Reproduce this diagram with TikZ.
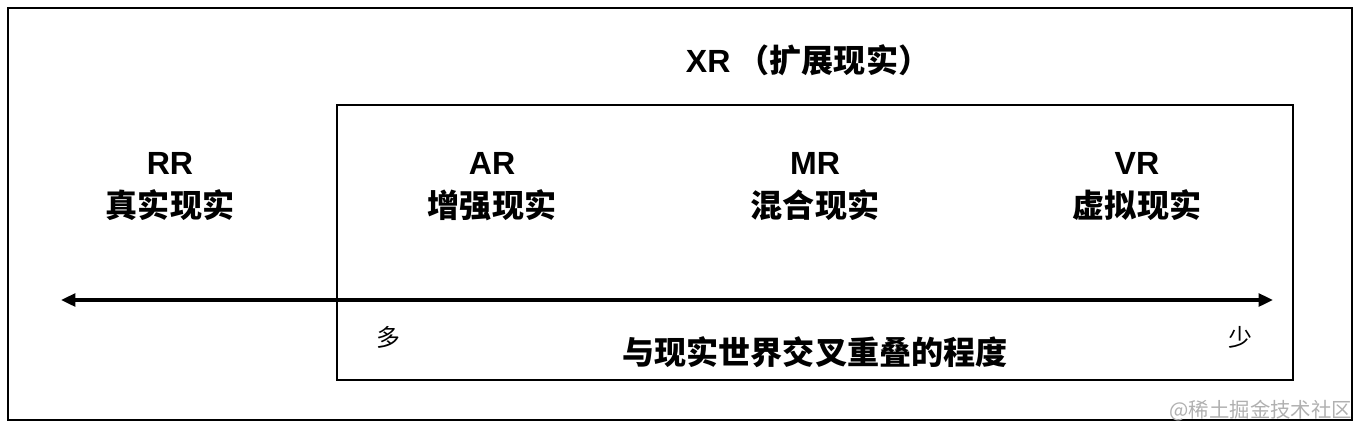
\documentclass[tikz,border=0pt]{standalone}
\usepackage{fontspec}
\setmainfont{Noto Sans CJK SC}
\newfontfamily\latinsans{Liberation Sans}
\usepackage{xcolor}
\usepackage{tikz}
\usetikzlibrary{arrows.meta}
\definecolor{markGray}{HTML}{B0B0B0}

\tikzset{
  big/.style={font=\fontsize{22.8}{27}\selectfont\bfseries},
  small/.style={font=\fontsize{17}{20}\selectfont},
  axis/.style={line width=2.3pt, {Triangle[length=0.36cm,width=0.32cm]}-{Triangle[length=0.36cm,width=0.32cm]}}
}

\begin{document}
\begin{tikzpicture}[x=0.025cm,y=-0.025cm]
  \useasboundingbox (0,0) rectangle (1360,430);
  \draw[line width=1.1pt] (8,8) rectangle (1352,420);
  \draw[line width=1.1pt] (337,105) rectangle (1293,380);

  \node[big] (xr) at (808,60) {{\latinsans XR} （扩展现实）};

  \node[big] (rr) at (170,163) {\latinsans RR};
  \node[big] (rrcn) at (170,205) {真实现实};
  \node[big] (ar) at (492,163) {\latinsans AR};
  \node[big] (arcn) at (492,205) {增强现实};
  \node[big] (mr) at (815,163) {\latinsans MR};
  \node[big] (mrcn) at (815,205) {混合现实};
  \node[big] (vr) at (1137,163) {\latinsans VR};
  \node[big] (vrcn) at (1137,205) {虚拟现实};

  \coordinate (axisL) at (61,300);
  \coordinate (axisR) at (1273,300);
  \draw[axis] (axisL) -- (axisR);

  \node[small] (more) at (388,337) {多};
  \node[small] (less) at (1240,337) {少};
  \node[big] (degree) at (815,352) {与现实世界交叉重叠的程度};

  \node[font=\fontsize{14.5}{16}\selectfont, text=markGray, anchor=east] (mark) at (1357,411) {@稀土掘金技术社区};
\end{tikzpicture}
\end{document}
